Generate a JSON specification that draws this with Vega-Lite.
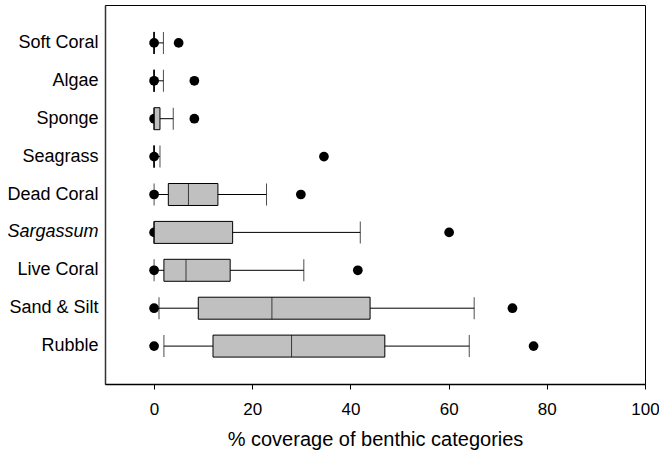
{
  "$schema": "https://vega.github.io/schema/vega-lite/v6.json",
  "width": 540,
  "height": 379,
  "autosize": {"type": "none"},
  "padding": {"left": 105, "top": 5, "right": 14, "bottom": 71},
  "background": "white",
  "config": {
    "view": {"stroke": "black", "strokeWidth": 1},
    "font": "Liberation Sans",
    "axis": {"grid": false, "labelFont": "Liberation Sans", "titleFont": "Liberation Sans", "labelColor": "black", "titleColor": "black", "domainColor": "black", "tickColor": "black"}
  },
  "data": {
    "values": [
      {"cat": "Soft Coral", "lo": 0, "q1": 0, "med": 0, "q3": 0, "hi": 1.9, "pmin": 0, "pmax": 5.0},
      {"cat": "Algae", "lo": 0, "q1": 0, "med": 0, "q3": 0, "hi": 1.9, "pmin": 0, "pmax": 8.2},
      {"cat": "Sponge", "lo": 0, "q1": 0, "med": 0, "q3": 1.2, "hi": 3.9, "pmin": 0, "pmax": 8.2},
      {"cat": "Seagrass", "lo": 0, "q1": 0, "med": 0, "q3": 0, "hi": 1.2, "pmin": 0, "pmax": 34.6},
      {"cat": "Dead Coral", "lo": 0, "q1": 2.9, "med": 7.0, "q3": 13.0, "hi": 22.9, "pmin": 0, "pmax": 29.9},
      {"cat": "Sargassum", "lo": 0, "q1": 0, "med": 0, "q3": 16.0, "hi": 42.0, "pmin": 0, "pmax": 60.1},
      {"cat": "Live Coral", "lo": 0, "q1": 2.0, "med": 6.5, "q3": 15.5, "hi": 30.5, "pmin": 0, "pmax": 41.5},
      {"cat": "Sand & Silt", "lo": 1.0, "q1": 9.0, "med": 24.0, "q3": 44.0, "hi": 65.2, "pmin": 0, "pmax": 73.0},
      {"cat": "Rubble", "lo": 2.0, "q1": 12.0, "med": 28.0, "q3": 47.0, "hi": 64.2, "pmin": 0, "pmax": 77.3}
    ]
  },
  "encoding": {
    "y": {
      "field": "cat",
      "type": "nominal",
      "sort": null,
      "title": null,
      "scale": {"paddingInner": 0.42, "paddingOuter": 0.71},
      "axis": {
        "ticks": false,
        "tickSize": 0,
        "labelPadding": 7,
        "labelFontSize": 18,
        "domainWidth": 1.5,
        "domainColor": "#333333",
        "labelFontStyle": {"condition": {"test": "datum.value === 'Sargassum'", "value": "italic"}, "value": "normal"}
      }
    }
  },
  "layer": [
    {
      "mark": {"type": "rule", "color": "black", "strokeWidth": 1},
      "encoding": {
        "x": {
          "field": "lo",
          "type": "quantitative",
          "title": "% coverage of benthic categories",
          "scale": {"domain": [-10, 100], "nice": false, "zero": false},
          "axis": {"values": [0, 20, 40, 60, 80, 100], "tickSize": 5, "labelFlush": false, "labelFontSize": 17, "labelPadding": 12, "titleFontSize": 20, "titleFontWeight": "normal", "titlePadding": 12, "domainWidth": 1.5}
        },
        "x2": {"field": "hi"}
      }
    },
    {
      "mark": {"type": "circle", "color": "black", "opacity": 1, "size": 95},
      "encoding": {"x": {"field": "pmin", "type": "quantitative", "title": "% coverage of benthic categories"}}
    },
    {
      "mark": {"type": "circle", "color": "black", "opacity": 1, "size": 95},
      "encoding": {"x": {"field": "pmax", "type": "quantitative", "title": "% coverage of benthic categories"}}
    },
    {
      "mark": {"type": "tick", "color": "black", "size": 22, "thickness": 1},
      "encoding": {"x": {"field": "lo", "type": "quantitative", "title": "% coverage of benthic categories"}}
    },
    {
      "mark": {"type": "tick", "color": "black", "size": 22, "thickness": 1},
      "encoding": {"x": {"field": "hi", "type": "quantitative", "title": "% coverage of benthic categories"}}
    },
    {
      "mark": {"type": "bar", "fill": "#c0c0c0", "stroke": "black", "strokeWidth": 1},
      "encoding": {
        "x": {"field": "q1", "type": "quantitative", "title": "% coverage of benthic categories"},
        "x2": {"field": "q3"}
      }
    },
    {
      "mark": {"type": "tick", "color": "black", "size": 22, "thickness": 1},
      "encoding": {"x": {"field": "med", "type": "quantitative", "title": "% coverage of benthic categories"}}
    }
  ]
}
